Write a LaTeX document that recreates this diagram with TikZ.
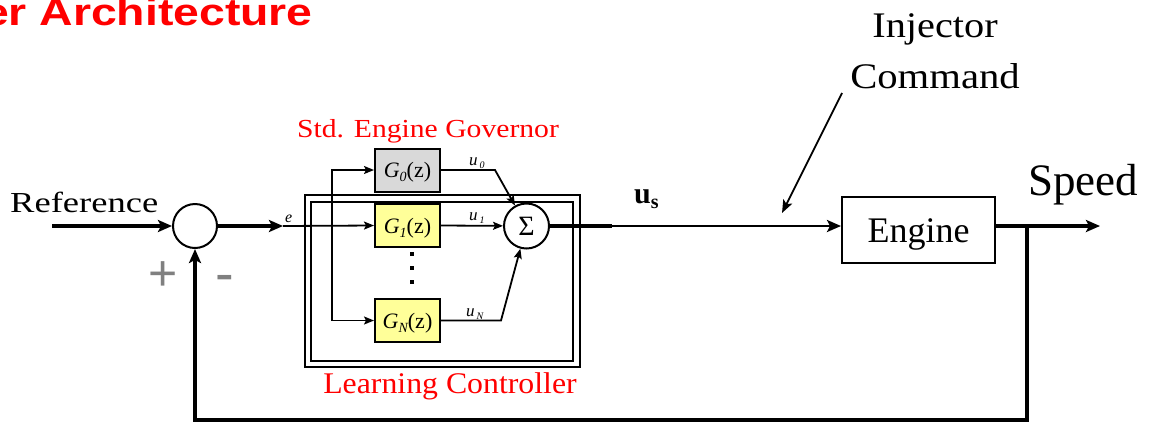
\documentclass[tikz,border=0pt]{standalone}
\usepackage{fontspec}
\setmainfont{Liberation Serif}
\newfontfamily\timesfont{Liberation Serif}
\newfontfamily\arialfont{Liberation Sans}
\usetikzlibrary{arrows.meta}
\definecolor{gfill}{RGB}{217,217,217}
\definecolor{yfill}{RGB}{255,255,153}
\definecolor{pmgray}{RGB}{128,128,128}
\newcommand{\lowsub}[2]{\raisebox{-#2}{\fontsize{14}{14}\selectfont\itshape #1}}
\newcommand{\ulabel}[1]{\textit{u}\kern2pt\raisebox{-3pt}{\fontsize{10}{10}\selectfont\itshape #1}}
\begin{document}
\begin{tikzpicture}[x=1pt,y=-1pt,
  heavy/.style={line width=4pt},
  mid/.style={line width=2.6pt},
  lite/.style={line width=1.8pt},
  bigarrow/.style={-{Stealth[length=14pt,width=12pt,inset=3pt]}},
  smallarrow/.style={-{Stealth[length=10pt,width=8pt,inset=2pt]}},
  sumc/.style={circle,draw,line width=2pt,minimum size=44pt,inner sep=0pt},
  gbox/.style={draw,line width=2pt,minimum width=65pt,minimum height=43pt,inner sep=0pt,
    text height=15pt,text depth=0pt,font=\timesfont\fontsize{22}{24}\selectfont},
  frame/.style={draw,inner sep=0pt},
  redtext/.style={text=red,inner sep=0pt}]
\useasboundingbox (0,0) rectangle (1158,424);
\clip (0,0) rectangle (1158,424);

% title
\node[redtext,anchor=base east,font=\arialfont\bfseries\fontsize{38}{40}\selectfont] (title) at (313,25) {\scalebox{1.22}[1]{er Architecture}};

% learning controller frame
\node[frame,line width=1.5pt,minimum width=275pt,minimum height=172pt] (lcout) at (442.5,281) {};
\node[frame,line width=2.6pt,minimum width=262pt,minimum height=159pt] (lcin) at (442,281.5) {};

% labels
\node[anchor=base west,inner sep=0pt,font=\timesfont\fontsize{29}{30}\selectfont] (ref) at (10,212) {\scalebox{1.26}[1]{Reference}};
\node[anchor=base west,inner sep=0pt,font=\timesfont\fontsize{45}{48}\selectfont] (speed) at (1028,195) {Speed};
\node[anchor=base,inner sep=0pt,font=\timesfont\fontsize{36}{38}\selectfont] (inj1) at (935,37) {\scalebox{1.12}[1]{Injector}};
\node[anchor=base,inner sep=0pt,font=\timesfont\fontsize{36}{38}\selectfont] (inj2) at (935,88) {\scalebox{1.13}[1]{Command}};
\node[redtext,anchor=base,font=\timesfont\fontsize{26}{28}\selectfont] (std) at (428,137) {\scalebox{1.14}[1]{Std. Engine Governor}};
\node[redtext,anchor=base,font=\timesfont\fontsize{30}{32}\selectfont] (lc) at (450,393) {\scalebox{1.06}[1]{Learning Controller}};
\node[anchor=base west,inner sep=0pt,font=\timesfont\bfseries\fontsize{30}{32}\selectfont] (us) at (634,203) {u\raisebox{-5pt}{\fontsize{20}{20}\selectfont\bfseries s}};
\node[inner sep=0pt,text=pmgray,font=\arialfont\fontsize{50}{50}\selectfont] (plus) at (163,276) {+};
\node[inner sep=0pt,text=pmgray,font=\arialfont\fontsize{56}{56}\selectfont] (minus) at (225,283.5) {-};
\node[anchor=base west,inner sep=0pt,font=\timesfont\itshape\fontsize{16}{16}\selectfont] (elab) at (285,222) {e};
\node[anchor=base west,inner sep=0pt,font=\timesfont\fontsize{17}{17}\selectfont] (u0) at (469,165) {\ulabel{0}};
\node[anchor=base west,inner sep=0pt,font=\timesfont\fontsize{17}{17}\selectfont] (u1) at (469,220) {\ulabel{1}};
\node[anchor=base west,inner sep=0pt,font=\timesfont\fontsize{17}{17}\selectfont] (uN) at (466,316) {\ulabel{N}};

% blocks
\node[sumc] (sum) at (195,226) {};
\node[sumc,minimum size=45pt,font=\timesfont\fontsize{28}{28}\selectfont] (sig) at (526.5,226) {Σ};
\node[gbox,fill=gfill] (G0) at (407.5,170) {\textit{G}\lowsub{0}{4pt}(z)};
\node[gbox,fill=yfill] (G1) at (407.5,225.5) {\textit{G}\lowsub{1}{4pt}(z)};
\node[gbox,fill=yfill] (GN) at (407.5,320.5) {\textit{G}\lowsub{N}{4pt}(z)};
\node[draw,line width=2pt,minimum width=153pt,minimum height=66pt,inner sep=0pt,
  text height=24pt,text depth=0pt,font=\timesfont\fontsize{36}{38}\selectfont] (engine) at (918.5,230) {Engine};

% dots
\foreach \yy/\nm in {256/d1,270/d2,284/d3}
  \fill (410,\yy) rectangle ++(4,-4) coordinate (\nm);

% coordinates
\coordinate (refin) at (52,226);
\coordinate (earrow) at (283,226);
\coordinate (btop) at (332,170);
\coordinate (bbot) at (332,320.5);
\coordinate (k0) at (495,170);
\coordinate (kN) at (501,320.5);
\coordinate (usbreak) at (612,226);
\coordinate (spdend) at (1100,226);
\coordinate (tap) at (1027,226);
\coordinate (fbr) at (1027,420);
\coordinate (fbl) at (195,420);
\coordinate (injs) at (842,93);
\coordinate (inje) at (782,213);

% connectors
\draw[heavy,bigarrow] (refin) -- (sum.west);
\draw[heavy,bigarrow] (sum.east) -- (earrow);
\draw[lite,smallarrow] (earrow) -- (G1.west);
\draw[lite,smallarrow] (bbot) -- (btop) -- (G0.west);
\draw[lite,smallarrow] (bbot) -- (GN.west);
\draw[lite,smallarrow] (G0.east) -- (k0) -- (sig);
\draw[lite,smallarrow] (G1.east) -- (sig);
\draw[lite,smallarrow] (GN.east) -- (kN) -- (sig);
\draw[heavy] (sig.east) -- (usbreak);
\draw[mid,bigarrow] (usbreak) -- (engine.west |- usbreak);
\draw[heavy,bigarrow] (engine.east |- spdend) -- (spdend);
\draw[heavy,bigarrow,line join=miter] (tap) -- (fbr) -- (fbl) -- (sum.south);
\draw[lite,-{Stealth[length=13pt,width=10pt,inset=3pt]}] (injs) -- (inje);
\end{tikzpicture}
\end{document}
